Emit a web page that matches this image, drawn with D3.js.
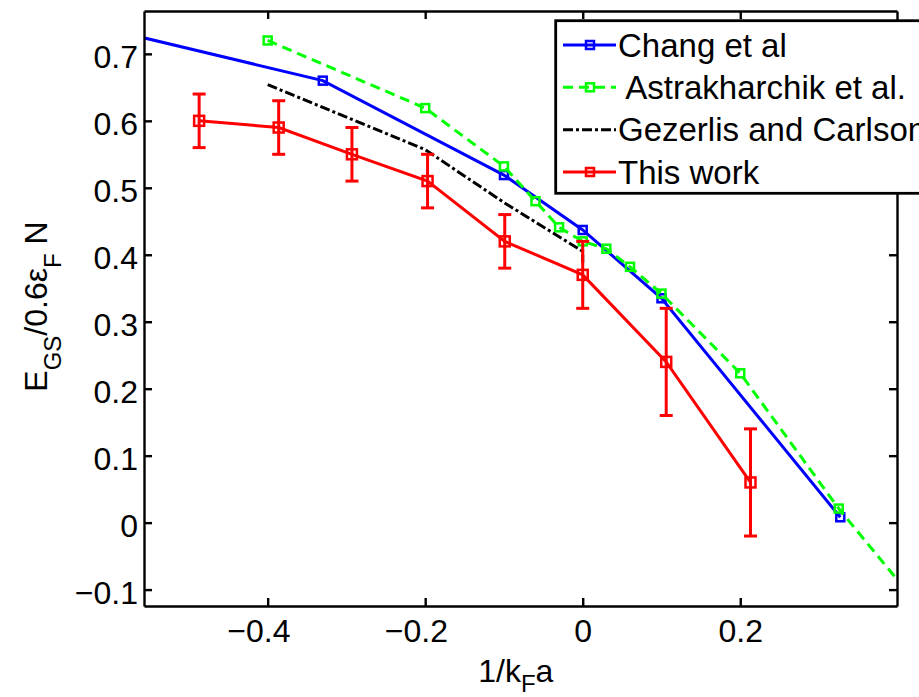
<!DOCTYPE html>
<html>
<head>
<meta charset="utf-8">
<script src="https://cdn.jsdelivr.net/npm/d3@7"></script>
<style>
  html, body { margin: 0; padding: 0; background: #fff; }
  svg { display: block; font-family: "Liberation Sans", Arial, Helvetica, sans-serif; }
</style>
</head>
<body>
<svg id="chart" width="919" height="697"></svg>
<script>
// Ground-state energy E_GS / (0.6 eps_F N) across the BCS-BEC crossover versus 1/kF a

// Chang et al (first point lies left of the visible range, so only its line segment shows)
const changX = [-0.60, -0.33, -0.10, 0.00, 0.10, 0.327];
const changY = [0.736, 0.660, 0.519, 0.437, 0.335, 0.008];

// Astrakharchik et al. (last point lies right of the visible range)
const astraX = [-0.40, -0.20, -0.10, -0.06, -0.03, 0.00, 0.03, 0.06, 0.10, 0.20, 0.325, 0.50];
const astraY = [0.720, 0.619, 0.532, 0.480, 0.441, 0.420, 0.409, 0.382, 0.342, 0.223, 0.021, -0.229];

// Gezerlis and Carlson
const gezX = [-0.40, -0.20, -0.10, 0.00, 0.00];
const gezY = [0.654, 0.557, 0.478, 0.405, 0.388];

// This work, with error bars
const workX = [-0.487, -0.386, -0.293, -0.197, -0.099, 0.000, 0.106, 0.213];
const workY = [0.60, 0.59, 0.55, 0.51, 0.42, 0.37, 0.24, 0.06];
const workErr = [0.04, 0.04, 0.04, 0.04, 0.04, 0.05, 0.08, 0.08];

const xTicks = [-0.4, -0.2, 0, 0.2];
const yTicks = [-0.1, 0, 0.1, 0.2, 0.3, 0.4, 0.5, 0.6, 0.7];
const legendLabels = ["Chang et al", " Astrakharchik et al.", "Gezerlis and Carlson", "This work"];

const box = { left: 144, top: 11, right: 897, bottom: 606 };
const svg = d3.select("#chart");

const x = d3.scaleLinear().domain([-0.557, 0.399]).range([box.left, box.right]);
const y = d3.scaleLinear().domain([-0.1245, 0.764]).range([box.bottom, box.top]);

const fmt = v => (v < 0 ? "\u2212" : "") + d3.format("")(Math.abs(Math.round(v * 10) / 10));

svg.append("defs").append("clipPath").attr("id", "plotClip")
  .append("rect")
  .attr("x", box.left).attr("y", box.top)
  .attr("width", box.right - box.left).attr("height", box.bottom - box.top);

const plot = svg.append("g").attr("clip-path", "url(#plotClip)");

const pairs = (xs, ys) => xs.map((v, i) => [v, ys[i]]);
const line = d3.line().x(d => x(d[0])).y(d => y(d[1]));

const series = [
  { pts: pairs(changX, changY), color: "#0000ff", dash: null, marker: 8 },
  { pts: pairs(astraX, astraY), color: "#00ff00", dash: "10,6", marker: 8 },
  { pts: pairs(gezX, gezY), color: "#000000", dash: "10,3,3,3", marker: 0 },
  { pts: pairs(workX, workY), color: "#ff0000", dash: null, marker: 10 }
];

const LW = 3;

series.forEach((s, si) => {
  plot.append("path")
    .datum(s.pts)
    .attr("d", line)
    .attr("fill", "none")
    .attr("stroke", s.color)
    .attr("stroke-width", LW)
    .attr("stroke-dasharray", s.dash);

  if (si === 3) {
    // vertical error bars with caps
    const eb = plot.append("g").attr("stroke", s.color).attr("stroke-width", LW);
    workX.forEach((xv, i) => {
      const cx = x(xv), y1 = y(workY[i] - workErr[i]), y2 = y(workY[i] + workErr[i]);
      eb.append("line").attr("x1", cx).attr("x2", cx).attr("y1", y1).attr("y2", y2);
      eb.append("line").attr("x1", cx - 6.5).attr("x2", cx + 6.5).attr("y1", y1).attr("y2", y1);
      eb.append("line").attr("x1", cx - 6.5).attr("x2", cx + 6.5).attr("y1", y2).attr("y2", y2);
    });
  }

  if (s.marker > 0) {
    plot.append("g").selectAll("rect").data(s.pts).join("rect")
      .attr("x", d => x(d[0]) - s.marker / 2)
      .attr("y", d => y(d[1]) - s.marker / 2)
      .attr("width", s.marker).attr("height", s.marker)
      .attr("fill", "none")
      .attr("stroke", s.color)
      .attr("stroke-width", 2.5);
  }
});

// Axes: ticks point inward on all four sides
const tickLen = 8;
const axisFont = 32;

const gLeft = svg.append("g").attr("transform", `translate(${box.left},0)`)
  .call(d3.axisLeft(y).tickValues(yTicks).tickSizeInner(-tickLen).tickSizeOuter(0).tickPadding(6).tickFormat(fmt));
gLeft.selectAll("text").attr("dy", 14).attr("font-size", axisFont)
  .attr("font-family", "Liberation Sans, Arial, sans-serif").attr("fill", "#000");

const gRight = svg.append("g").attr("transform", `translate(${box.right},0)`)
  .call(d3.axisRight(y).tickValues(yTicks).tickSizeInner(-tickLen).tickSizeOuter(0).tickFormat(""));

const gBottom = svg.append("g").attr("transform", `translate(0,${box.bottom})`)
  .call(d3.axisBottom(x).tickValues(xTicks).tickSizeInner(-tickLen).tickSizeOuter(0).tickFormat(fmt));
gBottom.selectAll("text")
  .attr("y", 0).attr("dy", 35.7)
  .attr("dx", d => d < 0 ? -9.3 : 0)
  .attr("font-size", axisFont)
  .attr("font-family", "Liberation Sans, Arial, sans-serif").attr("fill", "#000");

const gTop = svg.append("g").attr("transform", `translate(0,${box.top})`)
  .call(d3.axisTop(x).tickValues(xTicks).tickSizeInner(-tickLen).tickSizeOuter(0).tickFormat(""));

[gLeft, gRight, gBottom, gTop].forEach(g => {
  g.select(".domain").attr("stroke", "#000").attr("stroke-width", 2.4);
  g.selectAll(".tick line").attr("stroke", "#000").attr("stroke-width", 2.4);
});

// Axis titles
const xt = svg.append("text")
  .attr("x", 515.8).attr("y", 682)
  .attr("text-anchor", "middle").attr("font-size", 32).attr("fill", "#000");
xt.append("tspan").text("1/k");
xt.append("tspan").attr("font-size", 24).attr("dy", 10).text("F");
xt.append("tspan").attr("dy", -10).text("a");

const yt = svg.append("text")
  .attr("transform", "translate(46.7,306.5) rotate(-90)")
  .attr("text-anchor", "middle").attr("font-size", 32).attr("fill", "#000");
yt.append("tspan").text("E");
yt.append("tspan").attr("font-size", 24).attr("dy", 14).text("GS");
yt.append("tspan").attr("dy", -14).text("/0.6\u03b5");
yt.append("tspan").attr("font-size", 24).attr("dy", 14).text("F");
yt.append("tspan").attr("dy", -14).text(" N");

// Legend
const leg = svg.append("g");
leg.append("rect")
  .attr("x", 555.7).attr("y", 20.7)
  .attr("width", 420).attr("height", 172.6)
  .attr("fill", "#fff").attr("stroke", "#000").attr("stroke-width", 2.8);

const rowY = [45, 87.3, 129.7, 172];
series.forEach((s, i) => {
  const ry = rowY[i];
  leg.append("line")
    .attr("x1", 563).attr("x2", 616).attr("y1", ry).attr("y2", ry)
    .attr("stroke", s.color).attr("stroke-width", LW)
    .attr("stroke-dasharray", s.dash);
  if (s.marker > 0) {
    leg.append("rect")
      .attr("x", 590 - 4).attr("y", ry - 4).attr("width", 8).attr("height", 8)
      .attr("fill", "none").attr("stroke", s.color).attr("stroke-width", 2.5);
  }
  leg.append("text")
    .attr("x", 618).attr("y", ry + 11.7)
    .attr("font-size", 33).attr("fill", "#000")
    .attr("xml:space", "preserve")
    .style("white-space", "pre")
    .text(legendLabels[i]);
});
</script>
</body>
</html>
